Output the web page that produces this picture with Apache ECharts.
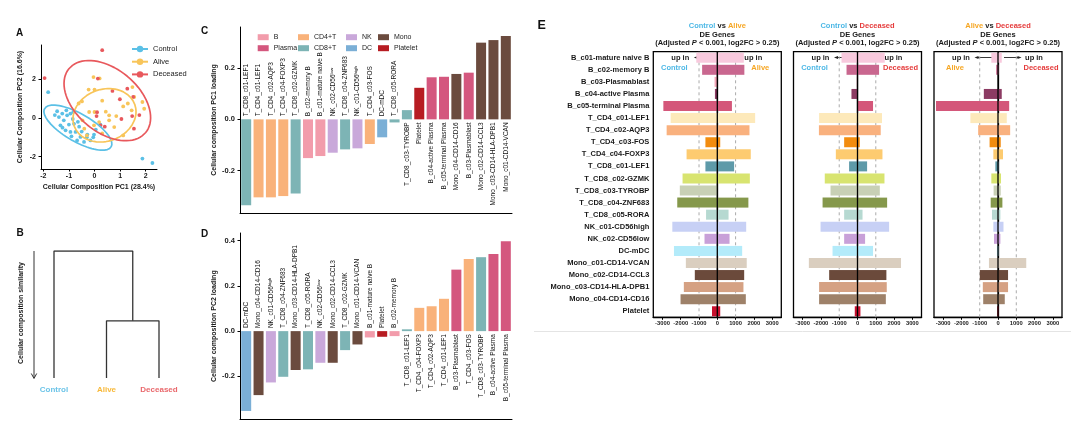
<!DOCTYPE html>
<html>
<head>
<meta charset="utf-8">
<title>Cellular composition</title>
<script src="https://cdn.jsdelivr.net/npm/echarts@6/dist/echarts.min.js"></script>
<style>
  html, body { margin: 0; padding: 0; background: #fff; }
  #chart { width: 1080px; height: 434px; }
</style>
</head>
<body>
<div id="chart"></div>
<script>
const FONT = '"Liberation Sans", Arial, Helvetica, sans-serif';

// ---------- A: PCA of cellular composition ----------
const controlPC = [
  [-1.81, 1.34], [1.87, -2.10], [2.26, -2.33],
  [-1.46, 0.35], [-1.26, 0.23], [-1.07, 0.14], [-0.94, 0.23], [-0.83, 0.31],
  [-1.39, 0.05], [-1.20, -0.12], [-1.33, -0.38], [-1.00, -0.34], [-0.80, -0.30],
  [-1.13, -0.64], [-0.94, -0.72], [-0.74, -0.72], [-0.55, -0.98], [-0.68, -1.16],
  [-0.41, -1.24], [-0.16, -1.16], [0.23, -0.34], [-0.02, -0.86], [-0.28, -0.86],
  [-0.60, -0.45], [-1.55, 0.15], [-1.10, 0.40], [-0.85, -0.05], [-0.50, -0.70],
  [-0.30, -1.00], [-0.05, -1.00], [-1.25, -0.50], [-0.65, -0.20], [-0.90, -0.95],
  [0.05, -0.60]
];
const alivePC = [
  [-0.04, 2.12], [0.20, 2.05], [-0.23, 1.47], [0.00, 1.47], [-0.49, 0.86],
  [-0.62, 0.75], [-0.21, 0.31], [0.00, 0.31], [0.44, 0.33], [0.57, 0.14],
  [1.12, 0.60], [1.30, 0.75], [1.48, 1.60], [1.55, 1.09], [1.87, 0.83],
  [1.94, 0.48], [1.45, 0.40], [0.77, -0.47], [0.57, -0.12], [0.18, -0.21],
  [-0.02, -0.38], [1.12, -0.90], [-0.40, -0.55], [-0.47, -0.12], [0.30, 0.90],
  [0.85, 0.10], [0.30, -0.80], [-0.30, -0.90]
];
const deceasedPC = [
  [0.30, 3.51], [-1.95, 2.07], [0.13, 2.04], [1.28, 1.52], [1.51, 1.09],
  [0.99, 0.97], [0.08, 0.10], [1.47, 0.10], [0.23, -0.38], [0.40, -0.45],
  [1.54, -0.55], [0.70, 1.40], [1.75, 0.15], [0.10, 0.30], [1.05, -0.05]
];
// confidence ellipses: centre x, centre y, then two conjugate half-axis vectors
const controlEllipse = [-0.65, -0.50, 1.30, -0.99, 0.27, 0.62];
const aliveEllipse = [0.39, 0.14, 1.18, 0.57, -0.35, 1.26];
const deceasedEllipse = [0.50, 0.90, 1.50, -1.65, 0.78, 1.26];
const pcaTicksX = [-2, -1, 0, 1, 2];
const pcaTicksY = [-2, 0, 2];

// ---------- B: dendrogram ----------
const dendroLeaves = ['Control', 'Alive', 'Deceased'];
// [left node, right node, height]; node 3 is the first merge
const dendroMerges = [[1, 2, 0.45], [0, 3, 1.0]];

// ---------- C / D: PC loadings ----------
const pc1Cells = [
  'T_CD8_c01-LEF1', 'T_CD4_c01-LEF1', 'T_CD4_c02-AQP3', 'T_CD4_c04-FOXP3', 'T_CD8_c02-GZMK',
  'B_c02-memory B', 'B_c01-mature naive B', 'NK_c02-CD56low', 'T_CD8_c04-ZNF683', 'NK_c01-CD56high',
  'T_CD4_c03-FOS', 'DC-mDC', 'T_CD8_c05-RORA', 'T_CD8_c03-TYROBP', 'Platelet',
  'B_c04-active Plasma', 'B_c05-terminal Plasma', 'Mono_c04-CD14-CD16', 'B_c03-Plasmablast',
  'Mono_c02-CD14-CCL3', 'Mono_c03-CD14-HLA-DPB1', 'Mono_c01-CD14-VCAN'
];
const pc1Loading = [
  -0.335, -0.304, -0.304, -0.299, -0.289, -0.151, -0.143, -0.130, -0.117, -0.113,
  -0.096, -0.070, -0.012, 0.036, 0.123, 0.164, 0.166, 0.177, 0.182, 0.299, 0.309, 0.325
];
const pc2Cells = [
  'DC-mDC', 'Mono_c04-CD14-CD16', 'NK_c01-CD56high', 'T_CD8_c04-ZNF683', 'Mono_c03-CD14-HLA-DPB1',
  'T_CD8_c05-RORA', 'NK_c02-CD56low', 'Mono_c02-CD14-CCL3', 'T_CD8_c02-GZMK', 'Mono_c01-CD14-VCAN',
  'B_c01-mature naive B', 'Platelet', 'B_c02-memory B', 'T_CD8_c01-LEF1', 'T_CD4_c04-FOXP3',
  'T_CD4_c02-AQP3', 'T_CD4_c01-LEF1', 'B_c03-Plasmablast', 'T_CD4_c03-FOS', 'T_CD8_c03-TYROBP',
  'B_c04-active Plasma', 'B_c05-terminal Plasma'
];
const pc2Loading = [
  -0.353, -0.283, -0.227, -0.202, -0.172, -0.169, -0.140, -0.140, -0.084, -0.059,
  -0.028, -0.025, -0.022, 0.008, 0.103, 0.110, 0.143, 0.272, 0.319, 0.327, 0.341, 0.397
];
const loadingTicksC = [-0.2, 0, 0.2];
const loadingTicksD = [-0.2, 0, 0.2, 0.4];
const cellGroups = ['B', 'Plasma', 'CD4+T', 'CD8+T', 'NK', 'DC', 'Mono', 'Platelet'];
const groupColors = ['#F29CAB', '#D4577E', '#F9B27A', '#7DB4B5', '#C9A8DA', '#7BAFD6', '#6B4B3E', '#B71C22'];

// ---------- E: DE genes ----------
const deCells = [
  'B_c01-mature naive B', 'B_c02-memory B', 'B_c03-Plasmablast', 'B_c04-active Plasma',
  'B_c05-terminal Plasma', 'T_CD4_c01-LEF1', 'T_CD4_c02-AQP3', 'T_CD4_c03-FOS',
  'T_CD4_c04-FOXP3', 'T_CD8_c01-LEF1', 'T_CD8_c02-GZMK', 'T_CD8_c03-TYROBP',
  'T_CD8_c04-ZNF683', 'T_CD8_c05-RORA', 'NK_c01-CD56high', 'NK_c02-CD56low', 'DC-mDC',
  'Mono_c01-CD14-VCAN', 'Mono_c02-CD14-CCL3', 'Mono_c03-CD14-HLA-DPB1', 'Mono_c04-CD14-CD16', 'Platelet'
];
const deColors = [
  '#F8C9DD', '#C9678F', '#F4A7B9', '#8C3B63', '#D4577A', '#FDE9BA', '#F9B17E', '#F28C0F',
  '#FDCB70', '#5E9AA9', '#D8E470', '#C8D0B5', '#85984B', '#B6D9D1', '#C7D0F5', '#C8A0D8',
  '#B3EBFA', '#DACEBF', '#6B4A3B', '#D5A183', '#9E8169', '#C8102E'
];
const ctrlAliveDown = [-1150, -830, -150, -130, -2950, -2550, -2770, -650, -1680, -650, -1900,
  -2050, -2190, -615, -2460, -700, -2370, -1720, -1230, -1830, -2010, -290];
const ctrlAliveUp = [1450, 1480, 0, 0, 800, 2070, 1760, 160, 1830, 920, 1780,
  0, 1700, 615, 1580, 670, 1360, 1610, 1470, 1430, 1560, 160];
const ctrlDecDown = [-875, -600, -40, -330, 0, -2100, -2110, -730, -1185, -460, -1790,
  -1475, -1910, -730, -2020, -730, -1365, -2660, -1550, -2100, -2100, -150];
const ctrlDecUp = [1490, 1180, 20, 0, 850, 1340, 1270, 125, 1365, 525, 1475,
  1220, 1620, 275, 1730, 415, 850, 2380, 1580, 1600, 1550, 160];
const aliveDecDown = [-365, -100, 0, -775, -3390, -1510, -1085, -460, -255, -145, -365,
  -240, -400, -330, -255, -220, -60, -495, -995, -830, -810, -40];
const aliveDecUp = [205, 40, 0, 205, 610, 480, 665, 150, 275, 55, 165,
  150, 240, 130, 300, 130, 40, 1545, 550, 550, 370, 30];
const deTicks = [-3000, -2000, -1000, 0, 1000, 2000, 3000];
const deRefLines = [-1000, 1000];
const deComparisons = [['Control', 'Alive'], ['Control', 'Deceased'], ['Alive', 'Deceased']];

const statusColor = { Control: '#4DB8E6', Alive: '#F6A623', Deceased: '#E53B3B' };
const pcaColor = { Control: '#5BC0E6', Alive: '#F8C55A', Deceased: '#E8585C' };
const dendroColor = { Control: '#6CC4E8', Alive: '#F8B93A', Deceased: '#E9686C' };

const chart = echarts.init(document.getElementById('chart'));

function ellipseLine(e) {
  const pts = [];
  for (let k = 0; k <= 80; k++) {
    const t = k / 80 * Math.PI * 2;
    pts.push([e[0] + e[2] * Math.cos(t) + e[4] * Math.sin(t),
              e[1] + e[3] * Math.cos(t) + e[5] * Math.sin(t)]);
  }
  return pts;
}

function groupOf(cell) {
  if (cell.startsWith('B_c01') || cell.startsWith('B_c02')) return 'B';
  if (cell.startsWith('B_')) return 'Plasma';
  if (cell.startsWith('T_CD4')) return 'CD4+T';
  if (cell.startsWith('T_CD8')) return 'CD8+T';
  if (cell.startsWith('NK')) return 'NK';
  if (cell.startsWith('DC')) return 'DC';
  if (cell.startsWith('Mono')) return 'Mono';
  return 'Platelet';
}

function displayName(cell) {
  return cell.replace('CD56high', 'CD56\u02B0\u2071\u1D4D\u02B0').replace('CD56low', 'CD56\u02E1\u1D52\u02B7');
}

const boldTxt = (size, color) => ({ fontFamily: FONT, fontSize: size, fontWeight: 'bold', color: color || '#1a1a1a' });
const blackLine = (w) => ({ lineStyle: { color: '#000', width: w || 1 } });

// ----- grids -----
const deLefts = [653.3, 793.5, 934];
const grid = [
  { left: 41, top: 45, width: 116, height: 124 },            // A
  { left: 27.75, top: 251, width: 157.5, height: 127 },       // B
  { left: 240, top: 27, width: 272, height: 186 },            // C
  { left: 240, top: 233, width: 272, height: 186.3 }          // D
];
deLefts.forEach(l => grid.push({ left: l, top: 51.7, width: 128, height: 265.6,
  show: true, borderColor: '#000', borderWidth: 1.3, backgroundColor: 'transparent' }));

const xAxis = [];
const yAxis = [];

// A axes
xAxis.push({
  gridIndex: 0, type: 'value', min: -2.09, max: 2.44,
  axisLine: { onZero: false, ...blackLine(1) },
  axisTick: { customValues: pcaTicksX, length: 2.5, ...blackLine(1) },
  axisLabel: { customValues: pcaTicksX, margin: 4, ...boldTxt(7) },
  splitLine: { show: false },
  name: 'Cellular Composition PC1 (28.4%)', nameLocation: 'middle', nameGap: 15,
  nameTextStyle: boldTxt(7)
});
yAxis.push({
  gridIndex: 0, type: 'value', min: -2.64, max: 3.78,
  axisLine: { show: true, onZero: false, ...blackLine(1) },
  axisTick: { show: true, customValues: pcaTicksY, length: 2.5, ...blackLine(1) },
  axisLabel: { customValues: pcaTicksY, margin: 5, ...boldTxt(7) },
  splitLine: { show: false },
  name: 'Cellular Composition PC2 (16.6%)', nameLocation: 'middle', nameGap: 17,
  nameTextStyle: boldTxt(7)
});

// B axes
xAxis.push({ gridIndex: 1, type: 'value', min: -0.5, max: 2.5, show: false });
xAxis.push({
  gridIndex: 1, type: 'category', position: 'bottom',
  data: dendroLeaves.map(n => ({ value: n, textStyle: { color: dendroColor[n] } })),
  axisLine: { show: false }, axisTick: { show: false },
  axisLabel: { margin: 8, fontFamily: FONT, fontSize: 8, fontWeight: 'bold' }
});
yAxis.push({ gridIndex: 1, type: 'value', min: 0, max: 1, show: false });

// C / D axes
function loadingAxes(gi, cells, min, max, ticks, title) {
  xAxis.push({
    gridIndex: gi, type: 'category', data: cells,
    axisLine: { onZero: false, ...blackLine(1) },
    axisTick: { alignWithLabel: true, length: 2.5, ...blackLine(1) },
    axisLabel: { show: false }
  });
  yAxis.push({
    gridIndex: gi, type: 'value', min: min, max: max,
    axisLine: { show: true, onZero: false, ...blackLine(1) },
    axisTick: { show: true, customValues: ticks, length: 2.5, ...blackLine(1) },
    axisLabel: { customValues: ticks, margin: 5, formatter: v => v.toFixed(1), ...boldTxt(7.5) },
    splitLine: { show: false },
    name: title, nameLocation: 'middle', nameGap: 22, nameTextStyle: boldTxt(7)
  });
}
loadingAxes(2, pc1Cells, -0.365, 0.36, loadingTicksC, 'Cellular composition PC1 loading');
loadingAxes(3, pc2Cells, -0.39, 0.434, loadingTicksD, 'Cellular composition PC2 loading');

// E axes
deLefts.forEach((l, p) => {
  xAxis.push({
    gridIndex: 4 + p, type: 'value', min: -3500, max: 3500,
    axisLine: { onZero: false, ...blackLine(1.3) },
    axisTick: { customValues: deTicks, length: 2.5, ...blackLine(1) },
    axisLabel: { customValues: deTicks, margin: 3, formatter: v => String(v), ...boldTxt(5.8, '#222') },
    splitLine: { show: false }
  });
});
deLefts.forEach((l, p) => {
  yAxis.push({
    gridIndex: 4 + p, type: 'category', data: deCells, inverse: true,
    axisLine: { ...blackLine(1.3) },
    axisTick: { alignWithLabel: true, length: 2.5, ...blackLine(1) },
    axisLabel: { show: p === 0, margin: 4, ...boldTxt(7.5) }
  });
});
deLefts.forEach((l, p) => {
  yAxis.push({ gridIndex: 4 + p, type: 'value', min: 0, max: 1, show: false });
});

// ----- series -----
const series = [];
const pcaSets = [['Control', controlPC, controlEllipse], ['Alive', alivePC, aliveEllipse], ['Deceased', deceasedPC, deceasedEllipse]];
pcaSets.forEach(([name, pts, ell]) => {
  series.push({
    name: name, type: 'line', xAxisIndex: 0, yAxisIndex: 0, data: ellipseLine(ell),
    showSymbol: false, symbol: 'circle', symbolSize: 5, silent: true, z: 3,
    lineStyle: { color: pcaColor[name], width: 1.7 }, itemStyle: { color: pcaColor[name] }
  });
});
pcaSets.forEach(([name, pts]) => {
  series.push({
    name: name, type: 'scatter', xAxisIndex: 0, yAxisIndex: 0, data: pts,
    symbolSize: 3.8, itemStyle: { color: pcaColor[name], opacity: 1 }
  });
});

// dendrogram segments from the merge list
const nodeX = dendroLeaves.map((_, i) => i);
const nodeH = dendroLeaves.map(() => 0);
dendroMerges.forEach(([a, b, h]) => {
  series.push({
    type: 'line', xAxisIndex: 1, yAxisIndex: 1, showSymbol: false, silent: true,
    lineStyle: { color: '#333', width: 1.3 },
    data: [[nodeX[a], nodeH[a]], [nodeX[a], h], [nodeX[b], h], [nodeX[b], nodeH[b]]]
  });
  nodeX.push((nodeX[a] + nodeX[b]) / 2);
  nodeH.push(h);
});

function loadingBars(xi, yi, cells, values) {
  cellGroups.forEach((g, gi) => {
    series.push({
      name: g, type: 'bar', xAxisIndex: xi, yAxisIndex: yi,
      barWidth: 10, barGap: '-100%',
      itemStyle: { color: groupColors[gi] },
      label: { show: true, rotate: 90, verticalAlign: 'middle', distance: 3,
        fontFamily: FONT, fontSize: 6.5, color: '#111', formatter: p => displayName(p.name) },
      data: cells.map((c, i) => groupOf(c) !== g ? '-' : {
        value: values[i],
        label: values[i] < 0 ? { position: 'top', align: 'left' } : { position: 'bottom', align: 'right' }
      })
    });
  });
}
loadingBars(3, 2, pc1Cells, pc1Loading);
loadingBars(4, 3, pc2Cells, pc2Loading);

const deSets = [[ctrlAliveDown, ctrlAliveUp], [ctrlDecDown, ctrlDecUp], [aliveDecDown, aliveDecUp]];
deSets.forEach((pair, p) => {
  pair.forEach(vals => {
    series.push({
      type: 'bar', xAxisIndex: 5 + p, yAxisIndex: 4 + p, barWidth: 10, barGap: '-100%',
      data: vals.map((v, i) => v === 0 ? '-' : { value: v, itemStyle: { color: deColors[i] } })
    });
  });
  deRefLines.forEach(v => {
    series.push({
      type: 'line', xAxisIndex: 5 + p, yAxisIndex: 7 + p, data: [[v, 0], [v, 1]],
      showSymbol: false, silent: true, z: 1,
      lineStyle: { color: '#aaa', width: 1, type: [3, 3] }
    });
  });
  series.push({
    type: 'line', xAxisIndex: 5 + p, yAxisIndex: 7 + p, data: [[0, 0], [0, 1]],
    showSymbol: false, silent: true, z: 5, lineStyle: { color: '#000', width: 1.3 }
  });
});

// ----- legends -----
const legend = [{
  data: ['Control', 'Alive', 'Deceased'], orient: 'vertical', left: 126, top: 40,
  itemWidth: 16, itemHeight: 8, itemGap: 4.7, selectedMode: false,
  textStyle: { fontFamily: FONT, fontSize: 7.5, color: '#222' }
}];
const legendCols = [[252.7, ['B', 'Plasma']], [293, ['CD4+T', 'CD8+T']], [341, ['NK', 'DC']], [373, ['Mono', 'Platelet']]];
legendCols.forEach(([l, names]) => legend.push({
  data: names.map(n => ({ name: n, icon: 'rect' })), orient: 'vertical', left: l, top: 28.7,
  itemWidth: 11, itemHeight: 6, itemGap: 4, selectedMode: false,
  textStyle: { fontFamily: FONT, fontSize: 7, color: '#222' }
}));

// ----- annotations -----
const graphic = [];
const letter = (t, x, y, s) => graphic.push({ type: 'text', x: x, y: y,
  style: { text: t, fontFamily: FONT, fontSize: s, fontWeight: 'bold', fill: '#111' } });
letter('A', 16, 28, 10);
letter('B', 16.5, 228.5, 10);
letter('C', 201, 26.5, 10);
letter('D', 201, 229.5, 10);
letter('E', 537.5, 19.5, 12.5);

graphic.push({ type: 'line', shape: { x1: 34, y1: 251, x2: 34, y2: 378 }, style: { stroke: '#333', lineWidth: 1 } });
graphic.push({ type: 'polyline', shape: { points: [[31.3, 373.5], [34, 378.5], [36.7, 373.5]] }, style: { stroke: '#333', lineWidth: 1, fill: null } });
graphic.push({ type: 'text', x: 21, y: 313, rotation: Math.PI / 2,
  style: { text: 'Cellular composition similarity', fontFamily: FONT, fontSize: 7, fontWeight: 'bold',
    fill: '#1a1a1a', align: 'center', verticalAlign: 'middle' } });

graphic.push({ type: 'line', shape: { x1: 534, y1: 331.5, x2: 1071, y2: 331.5 }, style: { stroke: '#e4e4e4', lineWidth: 1 } });

const rich = {
  Control: { fill: statusColor.Control, fontFamily: FONT, fontSize: 7.5, fontWeight: 'bold' },
  Alive: { fill: statusColor.Alive, fontFamily: FONT, fontSize: 7.5, fontWeight: 'bold' },
  Deceased: { fill: statusColor.Deceased, fontFamily: FONT, fontSize: 7.5, fontWeight: 'bold' },
  k: { fill: '#1a1a1a', fontFamily: FONT, fontSize: 7.5, fontWeight: 'bold' },
  i: { fill: '#1a1a1a', fontFamily: FONT, fontSize: 7.5, fontWeight: 'bold', fontStyle: 'italic' }
};
deComparisons.forEach(([a, b], p) => {
  const cx = deLefts[p] + 64;
  const t = (text, x, y) => graphic.push({ type: 'text', x: x, y: y,
    style: { text: text, rich: rich, align: 'center', verticalAlign: 'middle' } });
  t(`{${a}|${a}}{k| vs }{${b}|${b}}`, cx, 26);
  t('{k|DE Genes}', cx, 35);
  t('{k|(Adjusted }{i|P}{k| < 0.001, log2FC > 0.25)}', cx, 43);
  t('{k|up in}', cx - 37, 57.5);
  t('{k|up in}', cx + 36, 57.5);
  t(`{${a}|${a}}`, cx - 43, 68.3);
  t(`{${b}|${b}}`, cx + 43, 68.3);
  [-1, 1].forEach(s => {
    graphic.push({ type: 'line', shape: { x1: cx + s * 6, y1: 57.5, x2: cx + s * 20, y2: 57.5 },
      style: { stroke: '#222', lineWidth: 0.9 } });
    graphic.push({ type: 'polygon', shape: { points: [[cx + s * 23.5, 57.5], [cx + s * 19.5, 55.9], [cx + s * 19.5, 59.1]] },
      style: { fill: '#222' } });
  });
});

chart.setOption({
  backgroundColor: '#fff',
  animation: false,
  textStyle: { fontFamily: FONT },
  grid: grid,
  xAxis: xAxis,
  yAxis: yAxis,
  legend: legend,
  series: series,
  graphic: graphic
});

window.addEventListener('resize', () => chart.resize());
</script>
</body>
</html>
